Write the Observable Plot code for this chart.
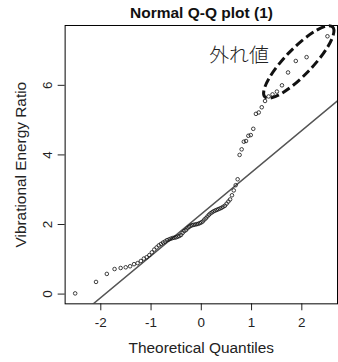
<!DOCTYPE html>
<html><head><meta charset="utf-8">
<script src="https://cdn.jsdelivr.net/npm/d3@7"></script>
<script src="https://cdn.jsdelivr.net/npm/@observablehq/plot@0.6"></script>
<style>
body{margin:0;background:#fff;}
#wrap{width:338px;height:362px;overflow:hidden;position:relative;font-family:"Liberation Sans",Arial,sans-serif;background:#fff;}
#title{height:24px;line-height:26px;font-weight:bold;font-size:15.5px;text-align:center;padding-left:65px;width:273px;color:#111;white-space:nowrap;}
#chart svg{display:block;}
</style></head><body>
<div id="wrap"><div id="title"></div><div id="chart"></div></div>
<script>
const titleText = "Normal Q-Q plot (1)";
const xLabel = "Theoretical Quantiles";
const yLabel = "Vibrational Energy Ratio";
const xTicks = [-2, -1, 0, 1, 2];
const yTicks = [0, 2, 4, 6];
const theoretical = [
  -2.51, -2.095, -1.88, -1.726, -1.605, -1.504, -1.417, -1.339, -1.268, -1.203,
  -1.143, -1.087, -1.034, -0.984, -0.936, -0.890, -0.846, -0.803, -0.762, -0.723,
  -0.684, -0.646, -0.610, -0.573, -0.538, -0.504, -0.470, -0.436, -0.403, -0.371,
  -0.339, -0.306, -0.275, -0.244, -0.213, -0.182, -0.152, -0.121, -0.091, -0.060,
  -0.030, 0, 0.030, 0.060, 0.091, 0.121, 0.152, 0.182, 0.213, 0.244,
  0.275, 0.306, 0.339, 0.371, 0.403, 0.436, 0.470, 0.504, 0.538, 0.573,
  0.610, 0.646, 0.684, 0.723, 0.762, 0.803, 0.846, 0.890, 0.936, 0.984,
  1.034, 1.087, 1.143, 1.203, 1.268, 1.339, 1.417, 1.504, 1.605, 1.726,
  1.88, 2.095, 2.51
];
const sample = [
  0.02, 0.35, 0.58, 0.72, 0.75, 0.77, 0.80, 0.86, 0.89, 0.95,
  1.02, 1.06, 1.12, 1.20, 1.28, 1.34, 1.40, 1.44, 1.48, 1.51,
  1.55, 1.57, 1.59, 1.61, 1.62, 1.63, 1.65, 1.67, 1.70, 1.76,
  1.81, 1.84, 1.89, 1.93, 1.96, 1.98, 1.99, 2.00, 2.01, 2.02,
  2.04, 2.06, 2.09, 2.14, 2.18, 2.23, 2.28, 2.32, 2.35, 2.38,
  2.40, 2.42, 2.44, 2.46, 2.48, 2.51, 2.54, 2.60, 2.66, 2.72,
  2.84, 2.98, 3.13, 3.30, 4.00, 4.16, 4.38, 4.40, 4.55, 4.57,
  4.75, 5.18, 5.22, 5.37, 5.55, 5.68, 5.74, 5.82, 6.00, 6.37,
  6.70, 6.81, 7.41
];
const refIntercept = 2.30;
const refSlope = 1.2;
const outlierText = "外れ値";
const outlierTextAt = [0.75, 6.84];
const outlierCenter = [1.949, 6.657];

document.getElementById("title").textContent = titleText;

const xDomain = [-2.71, 2.71];
const yDomain = [-0.28, 7.72];
const pts = theoretical.map((q, i) => ({q, v: sample[i]}));
const refLine = xDomain.map(q => ({q, v: refIntercept + refSlope * q}));

const plot = Plot.plot({
  width: 340, height: 338,
  marginLeft: 65, marginRight: 1, marginTop: 1, marginBottom: 57,
  style: {fontFamily: "Liberation Sans, Arial, sans-serif", fontSize: "13.5px", color: "#222", background: "#fff"},
  x: {domain: xDomain, ticks: xTicks, tickSize: 7, tickPadding: 7, tickFormat: d => String(d), label: null},
  y: {domain: yDomain, ticks: yTicks, tickSize: 7, tickFormat: () => "", label: null},
  marks: [
    Plot.line(refLine, {x: "q", y: "v", stroke: "#555", strokeWidth: 1.5, clip: true}),
    Plot.dot(pts, {x: "q", y: "v", r: 1.8, stroke: "#111", strokeWidth: 0.8, fill: "none"}),
    Plot.frame({stroke: "#000", strokeWidth: 1}),
    Plot.text(yTicks, {y: d => d, frameAnchor: "left", dx: -18, rotate: -90, text: d => String(d), textAnchor: "middle", lineAnchor: "middle", fontSize: 13.5, fill: "#222"}),
    Plot.text([xLabel], {frameAnchor: "bottom", dy: 44, text: d => d, lineAnchor: "middle", fontSize: 15.5, fill: "#222"}),
    Plot.text([yLabel], {frameAnchor: "left", dx: -44, rotate: -90, text: d => d, lineAnchor: "middle", textAnchor: "middle", fontSize: 15.5, fill: "#222"}),
    Plot.text([outlierText], {x: () => outlierTextAt[0], y: () => outlierTextAt[1], text: d => d, lineAnchor: "middle", fontSize: 20, fontWeight: 300, fontFamily: "Noto Sans CJK JP", fill: "#222"})
  ]
});
document.getElementById("chart").appendChild(plot);

const sx = plot.scale("x"), sy = plot.scale("y");
const cx = sx.apply(outlierCenter[0]), cy = sy.apply(outlierCenter[1]);
d3.select(plot).append("ellipse")
  .attr("cx", cx).attr("cy", cy)
  .attr("rx", 49).attr("ry", 13.5)
  .attr("transform", `rotate(-46 ${cx} ${cy})`)
  .attr("fill", "none").attr("stroke", "#111")
  .attr("stroke-width", 3).attr("stroke-dasharray", "9,4");
</script>
</body></html>
